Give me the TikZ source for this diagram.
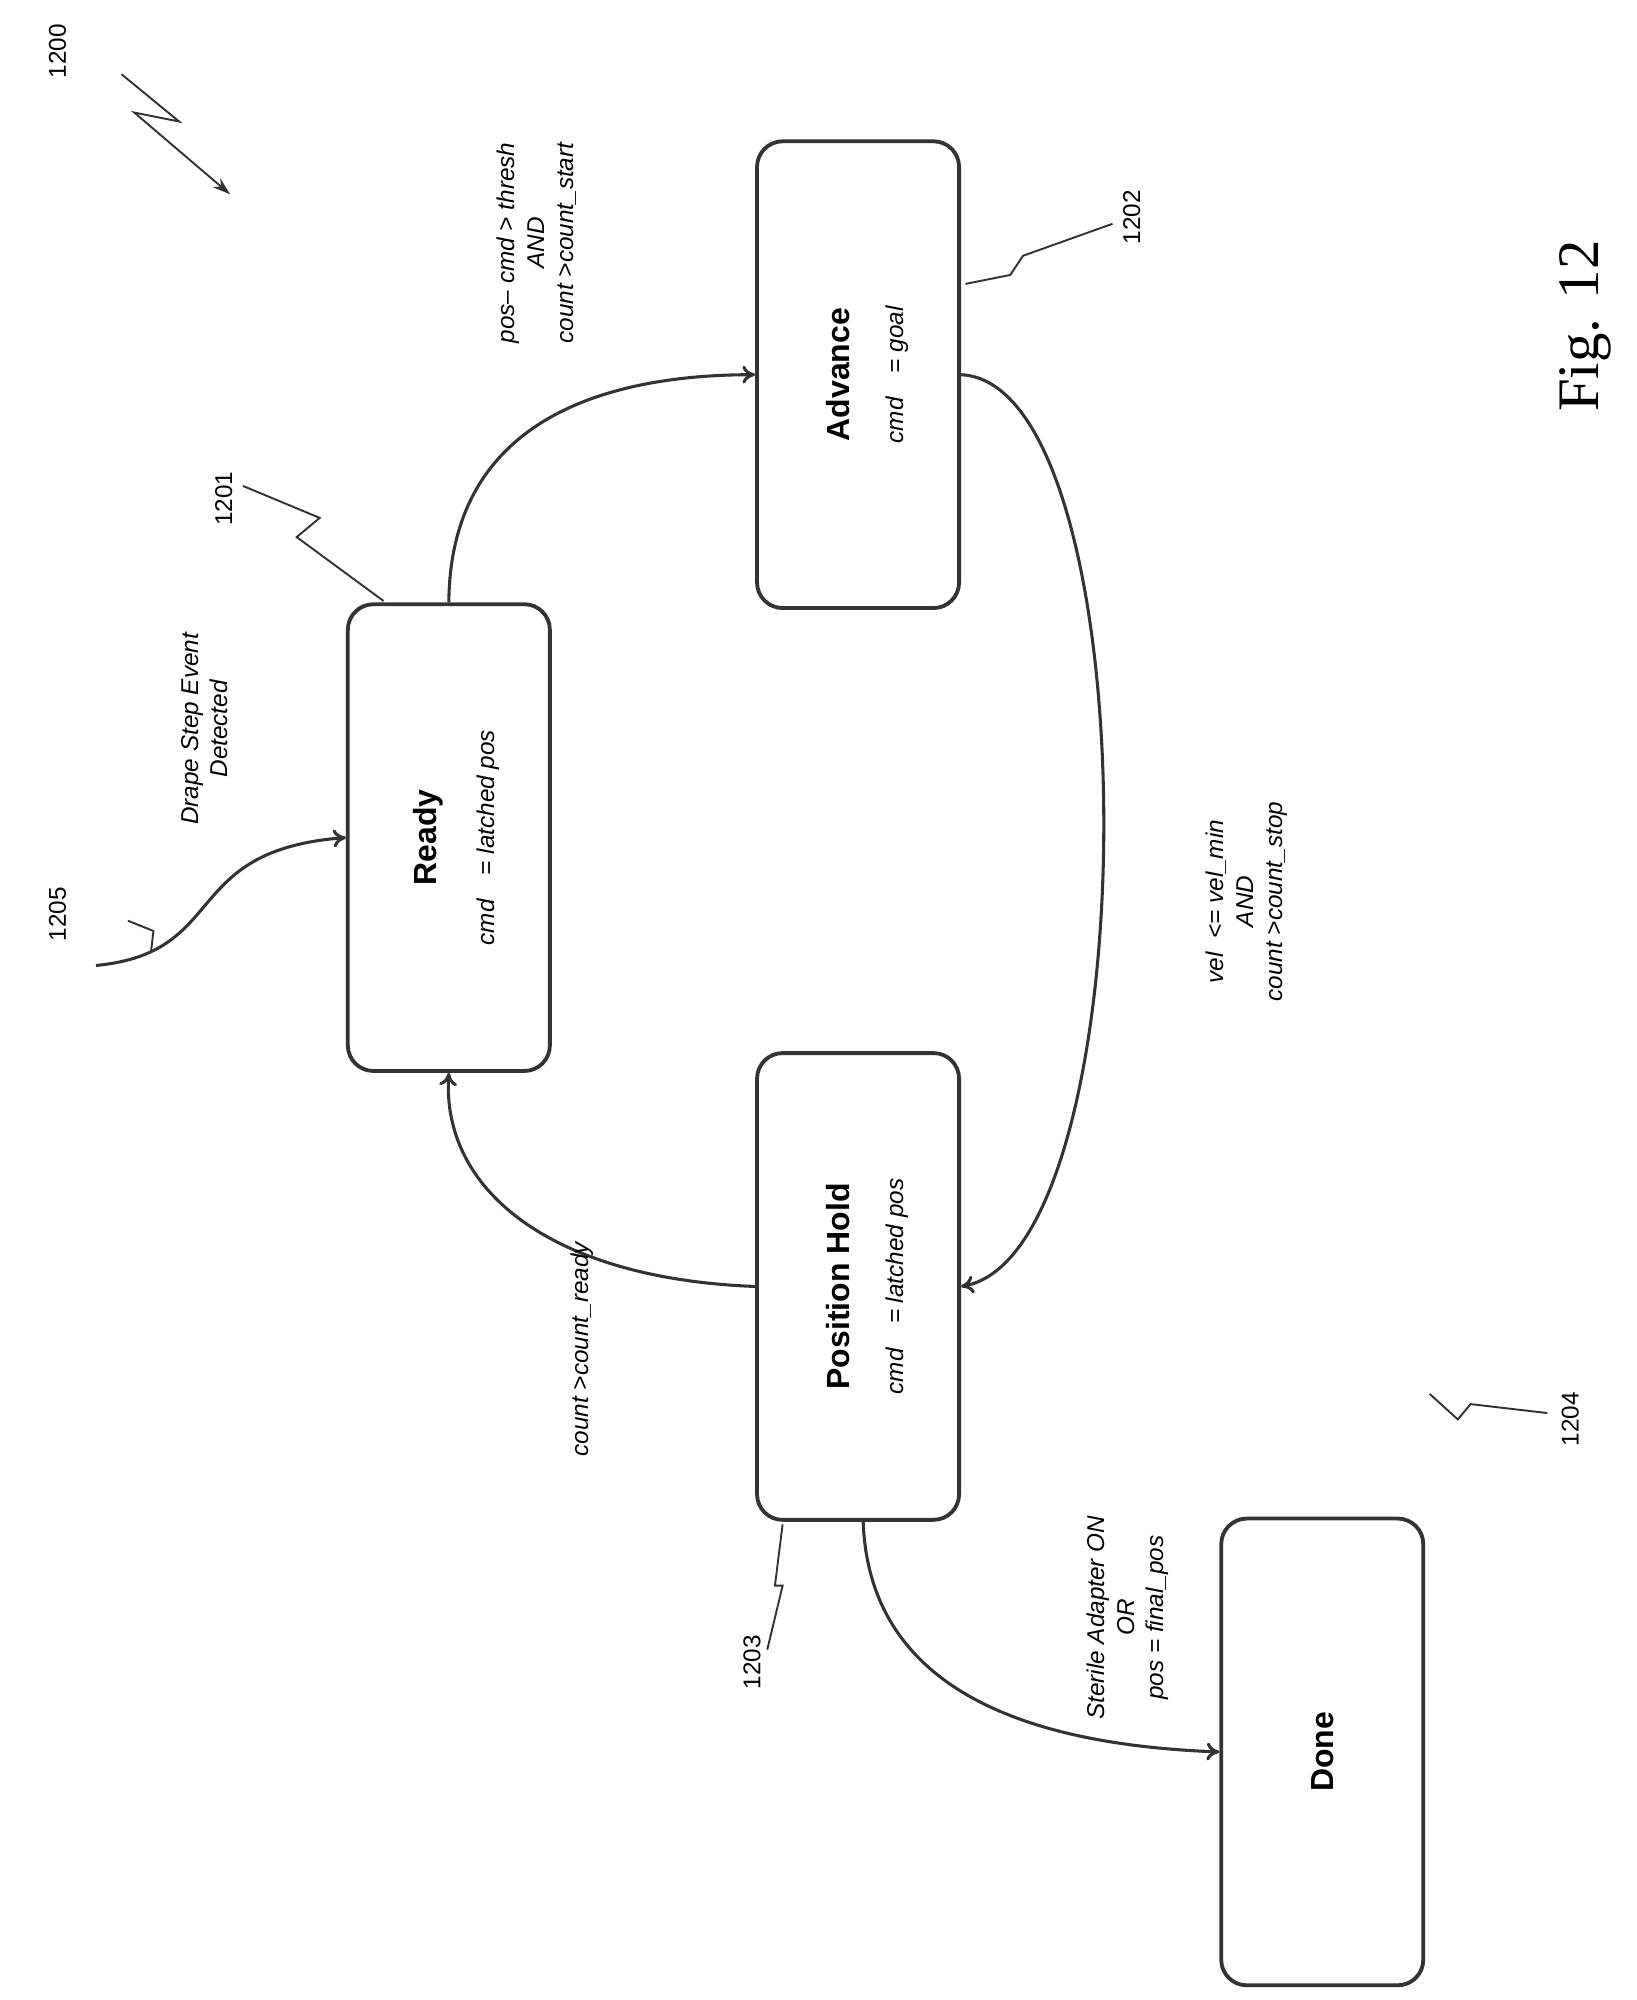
\documentclass[tikz,border=0pt]{standalone}
\usepackage{fontspec}
\setmainfont{Liberation Sans}
\newfontfamily\figfont{Liberation Serif}
\usetikzlibrary{arrows.meta,calc}
\begin{document}
\begin{tikzpicture}[x=1pt,y=-1pt,
  box/.style={draw=black!80,line width=3pt,rounded corners=20pt,minimum width=158pt,minimum height=365pt},
  ttl/.style={rotate=90,font=\fontsize{25}{28}\selectfont\bfseries},
  sub/.style={rotate=90,font=\fontsize{19}{22}\selectfont\itshape},
  lbl/.style={rotate=90,font=\fontsize{19}{23}\selectfont\itshape,align=center},
  num/.style={rotate=90,font=\fontsize{19}{22}\selectfont},
  arr/.style={draw=black!80,line width=2.4pt,-{To[length=10pt,width=14pt]}},
  ld/.style={draw=black!80,line width=1.5pt}]
\useasboundingbox (0,0) rectangle (1280,1564);
\fill[white] (0,0) rectangle (1280,1564);
\node[box] (ready) at (351,655) {};
\node[box] (adv) at (671,293) {};
\node[box] (hold) at (671,1006) {};
\node[box] (done) at (1034,1370) {};
\node[ttl] (t1) at (335,655) {Ready};
\node[sub] (s1) at (382,655) {cmd\quad = latched pos};
\node[ttl] (t2) at (655,293) {Advance};
\node[sub] (s2) at (702,293) {cmd\quad = goal};
\node[ttl] (t3) at (655,1006) {Position Hold};
\node[sub] (s3) at (702,1006) {cmd\quad = latched pos};
\node[ttl] (t4) at (1034,1370) {Done};
\draw[arr] (ready.north) .. controls (352,330) and (470,293) .. (adv.west);
\draw[arr] (adv.east) .. controls (900,300) and (900,980) .. (hold.east);
\draw[arr] (hold.west) .. controls (430,1000) and (345,930) .. (ready.south);
\draw[arr] ($(hold.south)+(4,0)$) .. controls (680,1330) and (820,1365) .. (done.west);
\coordinate (e0) at (75,755);
\draw[arr] (e0) .. controls (180,745) and (140,665) .. (ready.west);
\node[lbl] (l1) at (420,190) {pos-- cmd > thresh\\AND\\count >count\_start};
\node[lbl] (l2) at (160,570) {Drape Step Event\\Detected};
\node[lbl] (l3) at (975,705) {vel\ \ <= vel\_min\\AND\\count >count\_stop};
\node[lbl] (l4) at (455,1055) {count >count\_ready};
\node[lbl] (l5) at (882,1265) {Sterile Adapter ON\\OR\\pos = final\_pos};
\node[num] (n0) at (45,40) {1200};
\node[num] (n1) at (175,390) {1201};
\node[num] (n2) at (885,170) {1202};
\node[num] (n3) at (588,1300) {1203};
\node[num] (n4) at (1228,1110) {1204};
\node[num] (n5) at (45,715) {1205};
\node[rotate=90,font=\fontsize{46}{50}\figfont] (fig) at (1240,255) {Fig. 12};
\draw[ld,-{Stealth[length=14pt,width=9pt]}] (95,58) -- (140,95) -- (105,88) -- (180,152);
\draw[ld] (190,380) -- (250,405) -- (232,420) -- (300,470);
\draw[ld] (870,175) -- (800,200) -- (790,215) -- (755,222);
\draw[ld] (600,1290) -- (612,1240) -- (606,1240) -- (612,1192);
\draw[ld] (1210,1105) -- (1150,1098) -- (1140,1110) -- (1118,1090);
\draw[ld] (100,720) -- (120,728) -- (118,745);
\end{tikzpicture}
\end{document}
